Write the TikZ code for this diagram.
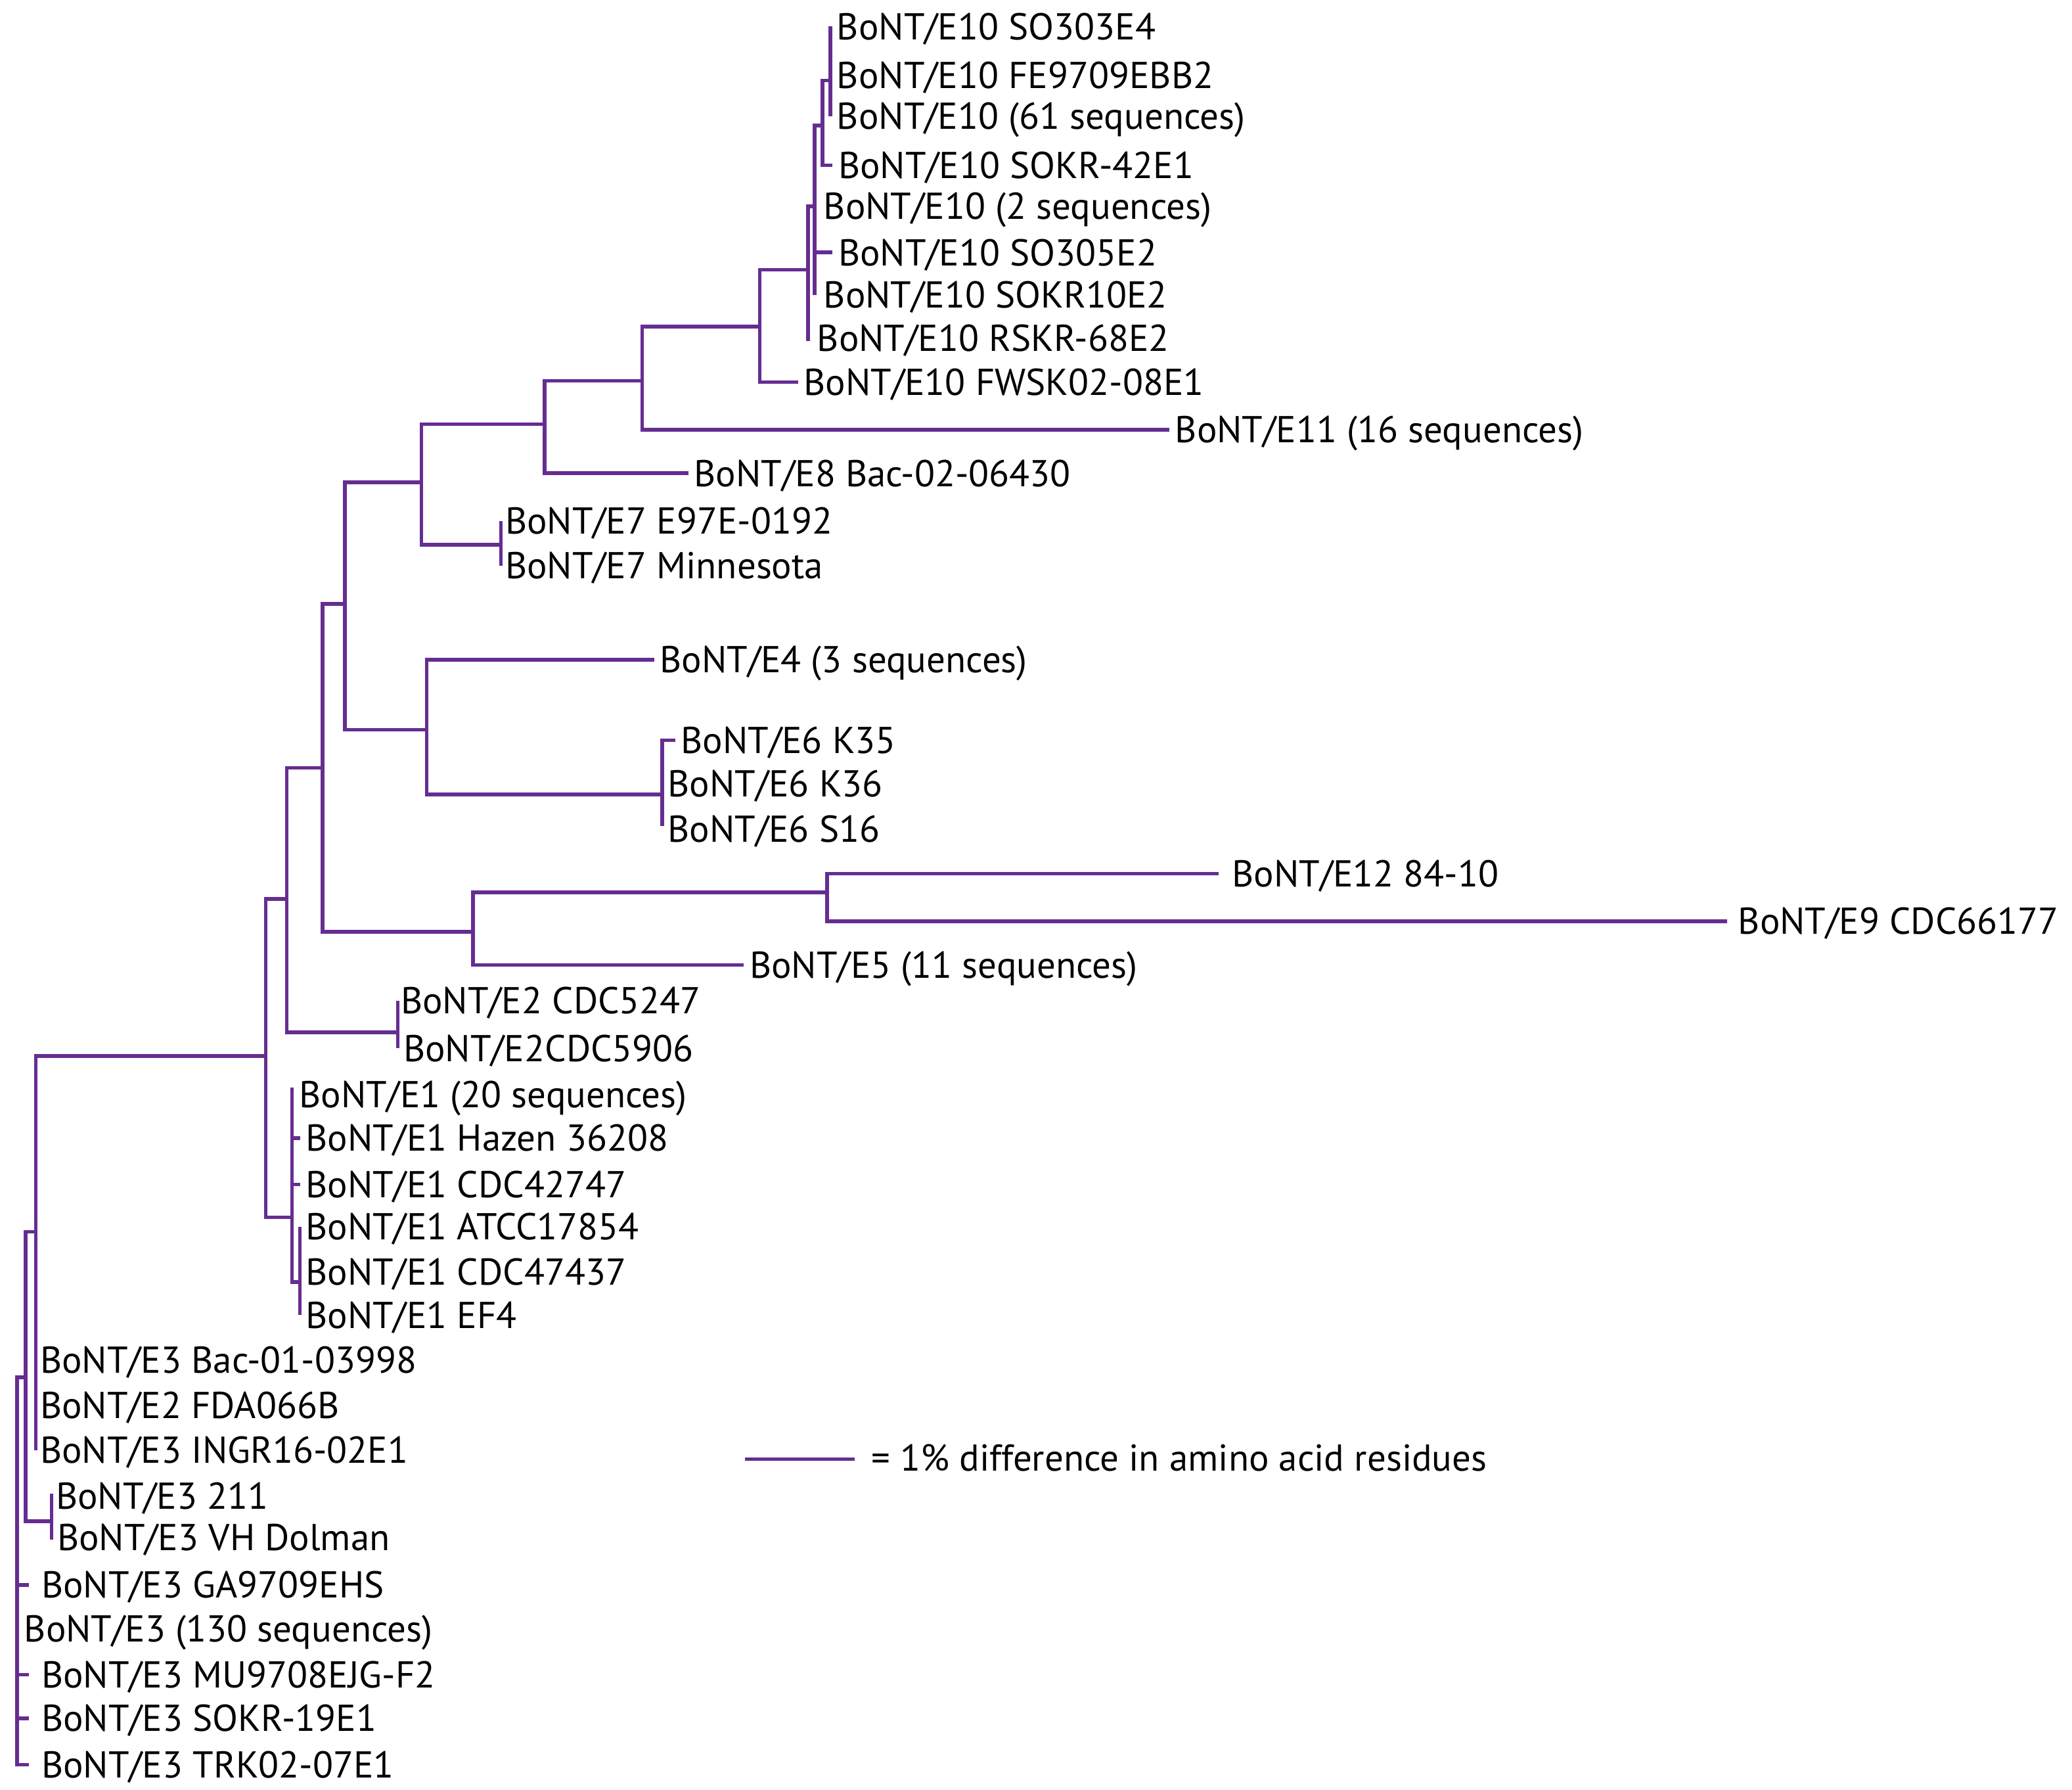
\documentclass[tikz,border=0pt]{standalone}
\usepackage{fontspec}
\setmainfont{PT Sans}
\usepackage{xcolor}
\definecolor{treepurple}{HTML}{662D91}

\begin{document}
\begin{tikzpicture}[x=0.2mm,y=-0.2mm,
  branch/.style={draw=treepurple,line width=0.55mm},
  leaf/.style={anchor=west,inner xsep=0.8mm,inner ysep=0pt,text height=11.3pt,text depth=0pt,
    font=\fontsize{16.1}{18}\selectfont}]
\useasboundingbox (0,0) rectangle (1568,1354);

% leaves
\node[leaf] (l1) at (629,20) {BoNT/E10 SO303E4};
\node[leaf] (l2) at (629,57) {BoNT/E10 FE9709EBB2};
\node[leaf] (l3) at (629,88) {BoNT/E10 (61 sequences)};
\node[leaf] (l4) at (630,125) {BoNT/E10 SOKR-42E1};
\node[leaf] (l5) at (619,156) {BoNT/E10 (2 sequences)};
\node[leaf] (l6) at (630,191) {BoNT/E10 SO305E2};
\node[leaf] (l7) at (619,223) {BoNT/E10 SOKR10E2};
\node[leaf] (l8) at (614,256) {BoNT/E10 RSKR-68E2};
\node[leaf] (l9) at (604,289) {BoNT/E10 FWSK02-08E1};
\node[leaf] (l10) at (885,325) {BoNT/E11 (16 sequences)};
\node[leaf] (l11) at (521,358) {BoNT/E8 Bac-02-06430};
\node[leaf] (l12) at (378,394) {BoNT/E7 E97E-0192};
\node[leaf] (l13) at (378,428) {BoNT/E7 Minnesota};
\node[leaf] (l14) at (495,499) {BoNT/E4 (3 sequences)};
\node[leaf] (l15) at (511,560) {BoNT/E6 K35};
\node[leaf] (l16) at (501,593) {BoNT/E6 K36};
\node[leaf] (l17) at (501,627) {BoNT/E6 S16};
\node[leaf,inner xsep=2mm] (l18) at (922,661) {BoNT/E12 84-10};
\node[leaf,inner xsep=1.6mm] (l19) at (1307,697) {BoNT/E9 CDC66177};
\node[leaf] (l20) at (563,730) {BoNT/E5 (11 sequences)};
\node[leaf] (l21) at (299,757) {BoNT/E2 CDC5247};
\node[leaf] (l22) at (301,793) {BoNT/E2CDC5906};
\node[leaf] (l23) at (222,828) {BoNT/E1 (20 sequences)};
\node[leaf] (l24) at (227,861) {BoNT/E1 Hazen 36208};
\node[leaf] (l25) at (227,896) {BoNT/E1 CDC42747};
\node[leaf] (l26) at (227,928) {BoNT/E1 ATCC17854};
\node[leaf] (l27) at (227,962) {BoNT/E1 CDC47437};
\node[leaf] (l28) at (227,995) {BoNT/E1 EF4};
\node[leaf] (l29) at (26,1029) {BoNT/E3 Bac-01-03998};
\node[leaf] (l30) at (26,1063) {BoNT/E2 FDA066B};
\node[leaf] (l31) at (26,1097) {BoNT/E3 INGR16-02E1};
\node[leaf] (l32) at (38,1132) {BoNT/E3 211};
\node[leaf] (l33) at (39,1163) {BoNT/E3 VH Dolman};
\node[leaf,inner xsep=1.8mm] (l34) at (22,1199) {BoNT/E3 GA9709EHS};
\node[leaf] (l35) at (14,1232) {BoNT/E3 (130 sequences)};
\node[leaf,inner xsep=1.8mm] (l36) at (22,1267) {BoNT/E3 MU9708EJG-F2};
\node[leaf,inner xsep=1.8mm] (l37) at (22,1300) {BoNT/E3 SOKR-19E1};
\node[leaf,inner xsep=1.8mm] (l38) at (22,1335) {BoNT/E3 TRK02-07E1};

% inner nodes, each at the height where it joins its parent
\coordinate (nA) at (628.5,61);
\coordinate (nB) at (622.5,95);
\coordinate (nC) at (616.5,156);
\coordinate (nD) at (611.5,204);
\coordinate (nE) at (575,247);
\coordinate (n486) at (486,288);
\coordinate (n412) at (412,321);
\coordinate (n319) at (319,365);
\coordinate (n379) at (379,412);
\coordinate (n261) at (261,457);
\coordinate (n323) at (323,552);
\coordinate (n501) at (501,601);
\coordinate (n244) at (244,581);
\coordinate (n358) at (358,705);
\coordinate (n626) at (626,675);
\coordinate (n217) at (217,680);
\coordinate (n301) at (301,781);
\coordinate (n201) at (201,799);
\coordinate (n221) at (221,921);
\coordinate (n227) at (227,970);
\coordinate (n27) at (27,932);
\coordinate (n20) at (19.5,1042);
\coordinate (n39) at (39,1151);
\coordinate (n13) at (13,1042);

\begin{scope}[every path/.style=branch]
\draw (nA |- l1) -- (nA |- l3);
\draw (nA) -| (nB) |- (l4.west);
\draw (nB) -| (nC) -- (nC |- l7);
\draw (nC |- l6) -- (l6.west);
\draw (nC) -| (nD) -- (nD |- 0,258);
\draw (nD) -| (nE) |- (l9.west);
\draw (nE) -| (n486) |- (l10.west);
\draw (n486) -| (n412) |- (l11.west);
\draw (n412) -| (n319) |- (n379);
\draw (n379 |- l12) -- (n379 |- l13);
\draw (n319) -| (n261) |- (n323);
\draw (l14.west) -| (n323) |- (n501);
\draw (l15.west) -| (n501) -- (n501 |- 0,625);
\draw (n261) -| (n244) |- (n358);
\draw (l18.west) -| (n626) |- (l19.west);
\draw (n626) -| (n358) |- (l20.west);
\draw (n244) -| (n217) |- (n301);
\draw (n301 |- l21) -- (n301 |- l22);
\draw (n217) -| (n201) |- (n221);
\draw (n221 |- 0,823) -- (n221) |- (n227);
\draw (n221 |- l24) -- (l24.west);
\draw (n221 |- l25) -- (l25.west);
\draw (n227 |- l26) -- (n227 |- l28);
\draw (n201) -| (n27) -- (n27 |- l31);
\draw (n27) -| (n20) |- (n39);
\draw (n39 |- 0,1130) -- (n39 |- 0,1165);
\draw (n20) -| (n13) |- (l38.west);
\draw (n13 |- l34) -- (l34.west);
\draw (n13 |- l36) -- (l36.west);
\draw (n13 |- l37) -- (l37.west);
\end{scope}

% scale bar
\coordinate (bar1) at (564,1104);
\coordinate (bar2) at (647,1104);
\draw[branch] (bar1) -- (bar2);
\node[leaf] (barlabel) at (655,1103) {= 1\% difference in amino acid residues};
\end{tikzpicture}
\end{document}
